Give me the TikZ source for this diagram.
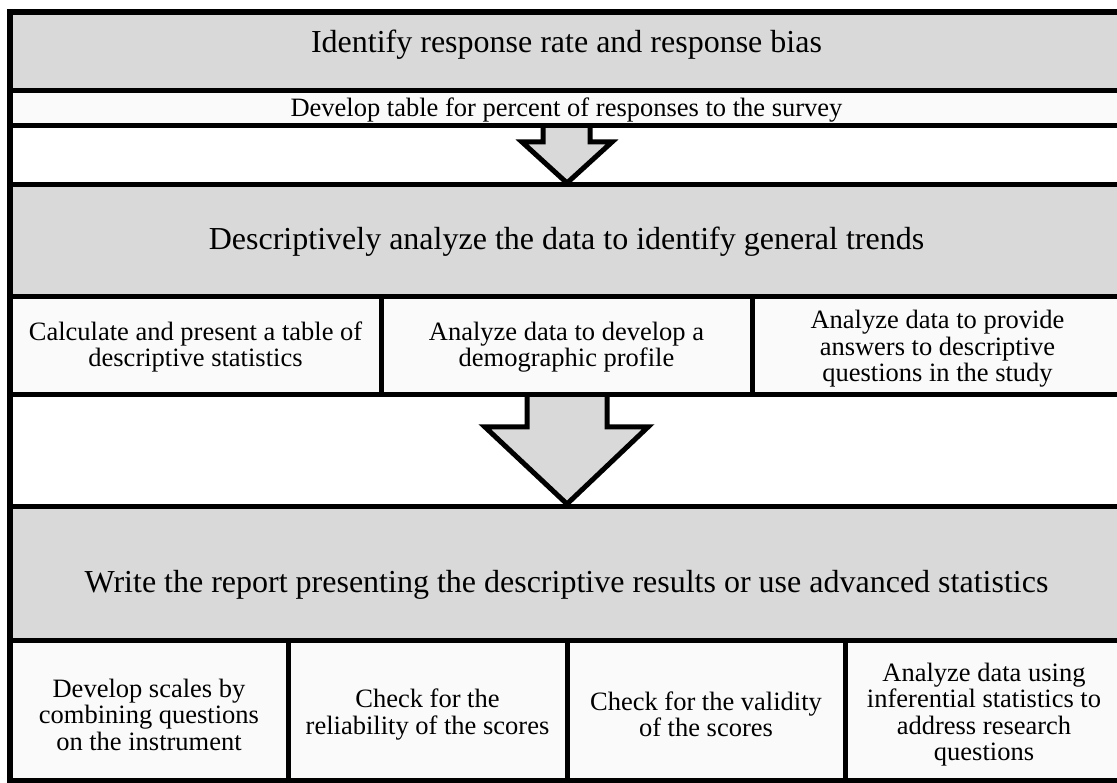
\documentclass[tikz,border=0pt]{standalone}
\usepackage{fontspec}
\setmainfont{Liberation Serif}
\usetikzlibrary{fit}
\definecolor{bandgray}{HTML}{D9D9D9}
\definecolor{boxfill}{HTML}{FAFAFA}
\begin{document}
\begin{tikzpicture}[x=1pt,y=-1pt,
  band/.style={draw=black, fill=bandgray, line width=5pt, inner sep=0pt, outer sep=0pt},
  cell/.style={draw=black, fill=boxfill, line width=5pt, inner sep=0pt, outer sep=0pt},
  blank/.style={fill=white, inner sep=0pt, outer sep=0pt},
  bigtext/.style={font=\fontsize{32}{32}\selectfont, anchor=base, inner sep=0pt},
  smalltext/.style={font=\fontsize{26.5}{26.5}\selectfont, align=center, inner sep=0pt},
  blockarrow/.style={fill=bandgray, draw=black, line width=5pt, line join=miter}]

\useasboundingbox (0,0) rectangle (1117,783);
\clip (0,0) rectangle (1117,783);
\fill[white] (0,0) rectangle (1117,783);

% white gaps
\node[blank, fit={(10,125.5) (1123,184.5)}] (gap1) {};
\node[blank, fit={(10,395) (1123,506)}] (gap2) {};

% block arrows (drawn under the rows they join)
\coordinate (a1l) at (543,120);
\coordinate (a1r) at (590,120);
\coordinate (a1tip) at (567,183);
\fill[bandgray] (a1l) -- (543,142) -- (522,142) -- (a1tip) -- (612,142) -- (590,142) -- (a1r) -- cycle;
\draw[blockarrow] (a1l) -- (543,142) -- (522,142) -- (a1tip) -- (612,142) -- (590,142) -- (a1r);

\coordinate (a2l) at (527,390);
\coordinate (a2r) at (607,390);
\coordinate (a2tip) at (567,504);
\fill[bandgray] (a2l) -- (527,427) -- (485,427) -- (a2tip) -- (648,427) -- (607,427) -- (a2r) -- cycle;
\draw[blockarrow] (a2l) -- (527,427) -- (485,427) -- (a2tip) -- (648,427) -- (607,427) -- (a2r);

% bands
\node[band, fit={(10,12) (1123,90.5)}] (b1) {};
\node[cell, fit={(10,90.5) (1123,125.5)}] (r1) {};
\node[band, fit={(10,184.5) (1123,297)}] (b2) {};
\node[cell, fit={(10,297) (381,395)}] (c1) {};
\node[cell, fit={(381,297) (752,395)}] (c2) {};
\node[cell, fit={(752,297) (1123,395)}] (c3) {};
\node[band, fit={(10,506) (1123,640)}] (b3) {};
\node[cell, fit={(10,640) (288,781)}] (d1) {};
\node[cell, fit={(288,640) (567,781)}] (d2) {};
\node[cell, fit={(567,640) (845,781)}] (d3) {};
\node[cell, fit={(845,640) (1123,781)}] (d4) {};

% redraw band borders over the arrow tips
\draw[line width=5pt] (10,184.5) -- (1123,184.5);
\draw[line width=5pt] (10,506) -- (1123,506);

% outer frame
\draw[line width=6pt] (10,12) rectangle (1123,781);

% texts
\node[bigtext] (t1) at (566.5,53) {Identify response rate and response bias};
\node[smalltext, anchor=base] (t2) at (566.5,117) {Develop table for percent of responses to the survey};
\node[bigtext] (t3) at (566.5,250) {Descriptively analyze the data to identify general trends};
\node[smalltext] (t4) at ([yshift=-1pt]c1.center) {Calculate and present a table of\\descriptive statistics};
\node[smalltext] (t5) at ([yshift=-1pt]c2.center) {Analyze data to develop a\\demographic profile};
\node[smalltext] (t6) at ([yshift=-3pt]c3.center) {Analyze data to provide\\answers to descriptive\\questions in the study};
\node[bigtext] (t7) at (566.5,592) {Write the report presenting the descriptive results or use advanced statistics};
\node[smalltext] (t8) at ([yshift=-4pt]d1.center) {Develop scales by\\combining questions\\on the instrument};
\node[smalltext] (t9) at ([yshift=-4pt]d2.center) {Check for the\\reliability of the scores};
\node[smalltext] (t10) at ([yshift=-4pt]d3.center) {Check for the validity\\of the scores};
\node[smalltext] (t11) at ([yshift=-4pt]d4.center) {Analyze data using\\inferential statistics to\\address research\\questions};
\end{tikzpicture}
\end{document}
